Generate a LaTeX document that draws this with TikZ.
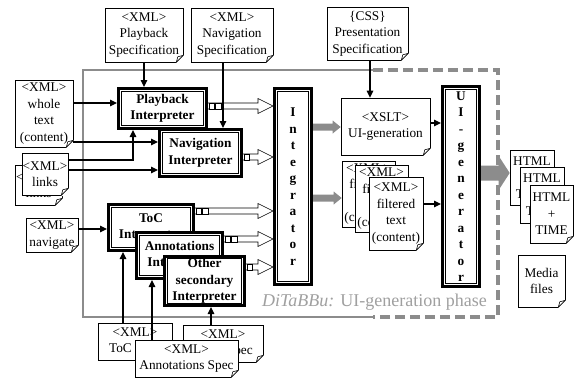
\documentclass[tikz,border=0pt]{standalone}
\usepackage{fontspec}
\setmainfont{Liberation Serif}
\usetikzlibrary{calc,arrows.meta}
\definecolor{frameg}{HTML}{8C8C8C}
\definecolor{labelg}{HTML}{A0A0A0}
\definecolor{arrg}{HTML}{8C8C8C}
\newcommand\docfont{\fontsize{13.3}{16.5}\selectfont}
\newcommand\boxfont{\fontsize{13.3}{16.5}\selectfont\bfseries}
\tikzset{
  docnode/.style={draw, line width=0.6pt, fill=white, inner sep=0pt, align=center, font=\docfont},
  frm/.style={draw, line width=3pt, fill=white, inner sep=0pt},
  inn/.style={draw, line width=0.8pt, fill=white, inner sep=0pt, align=center, font=\boxfont},
  arr/.style={line width=1.2pt, -{Triangle[length=7pt,width=6.5pt]}},
  solidframe/.style={draw=frameg, line width=2pt},
  dashframe/.style={draw=frameg, line width=4pt, dash pattern=on 10pt off 5pt},
}
% document with folded corner: name, cx, cy, w, h, text
\newcommand\mydoc[6]{%
  \node[docnode, minimum width=#4pt, minimum height=#5pt] (#1) at (#2,#3) {#6};
  \fill[white] ($(#1.south east)+(-7.5,0.8)$) -- ($(#1.south east)+(0.8,0.8)$) -- ($(#1.south east)+(0.8,-7.5)$) -- cycle;
  \draw[line width=0.6pt, line join=round] ($(#1.south east)+(-7,0)$) -- ($(#1.south east)+(0,-7)$) -- ($(#1.south east)+(-5.5,-5.5)$) -- cycle;
}
% interpreter box with thick outer and thin inner frame: name, cx, cy, w, h, text
\newcommand\ibox[6]{%
  \node[frm, minimum width=#4pt-3pt, minimum height=#5pt-3pt] (#1) at (#2,#3) {};
  \node[inn, minimum width=#4pt-9pt, minimum height=#5pt-9pt] (#1i) at (#2,#3) {#6};
}
% hollow arrow: from node, to node, y, list of square offsets
\newcommand\harrow[4]{%
  \coordinate (hs) at (#1.east |- 0,#3);
  \coordinate (he) at (#2.west |- 0,#3);
  \draw[line width=0.6pt, fill=white] ($(hs)+(0,-3)$) -- ($(he)+(-15,-3)$) -- ($(he)+(-15,-7.5)$) -- (he) -- ($(he)+(-15,7.5)$) -- ($(he)+(-15,3)$) -- ($(hs)+(0,3)$);
  \foreach \k in {#4}{\draw[line width=0.5pt, fill=white] ($(hs)+(\k,-3)$) rectangle ($(hs)+(\k+5.5,3)$);}
}
% grey filled arrow: from, to, y, shaft half, head half, head length
\newcommand\garrow[6]{%
  \coordinate (gs) at (#1.east |- 0,#3);
  \coordinate (ge) at (#2.west |- 0,#3);
  \fill[arrg] ($(gs)+(0,-#4)$) -- ($(ge)+(-#6,-#4)$) -- ($(ge)+(-#6,-#5)$) -- (ge) -- ($(ge)+(-#6,#5)$) -- ($(ge)+(-#6,#4)$) -- ($(gs)+(0,#4)$) -- cycle;
}
\begin{document}
\begin{tikzpicture}[x=1pt,y=-1pt]
\useasboundingbox (0,0) rectangle (574,378);
\fill[white] (0,0) rectangle (574,378);
% phase frame
\draw[solidframe] (373,70) -- (83,70) -- (83,317) -- (373,317);
\draw[dashframe] (373,70) -- (498,70) -- (498,317) -- (373,317);
\node[font=\fontsize{18}{20}\selectfont, text=labelg, anchor=east, inner sep=0pt] (lbl) at (487,302) {\textit{DiTaBBu:} UI-generation phase};
% specification documents
\mydoc{pbspec}{144}{35}{78}{54}{<XML>\\Playback\\Specification}
\mydoc{navspec}{232}{35}{82}{54}{<XML>\\Navigation\\Specification}
\mydoc{css}{367.5}{33.5}{81}{53}{\{CSS\}\\Presentation\\Specification}
\mydoc{whole}{44}{113.5}{58}{67}{<XML>\\whole\\text\\(content)}
\mydoc{links2}{38.5}{185}{47}{40}{<XML>\\links}
\mydoc{links1}{45}{174}{46}{42}{<XML>\\links}
\mydoc{navigate}{52}{235}{52}{34}{<XML>\\navigate}
\mydoc{tocspec}{135}{341.5}{74}{37}{<XML>\\ToC Spec}
\mydoc{othspec}{223}{343.5}{80}{37}{<XML>\\Other Spec}
\mydoc{annspec}{186.5}{358.5}{103}{37}{<XML>\\Annotations Spec}
\mydoc{xslt}{385.5}{126.5}{89}{57}{<XSLT>\\UI-generation}
\mydoc{filt1}{368.5}{194}{53}{66}{<XML>\\filtered\\text\\(content)}
\mydoc{filt2}{381.5}{198.5}{53}{67}{<XML>\\filtered\\text\\(content)}
\mydoc{filt3}{396}{213.5}{54}{73}{<XML>\\filtered\\text\\(content)}
\mydoc{html1}{532}{177.5}{44}{55}{HTML\\+\\TIME}
\mydoc{html2}{542}{195}{44}{56}{HTML\\+\\TIME}
\mydoc{html3}{551.5}{214}{43}{58}{HTML\\+\\TIME}
\mydoc{media}{541.5}{281}{47}{52}{Media\\files}
% interpreters
\ibox{pb}{162.5}{108.5}{91}{43}{Playback\\Interpreter}
\ibox{nav}{200.5}{153}{85}{50}{Navigation\\Interpreter}
\ibox{toc}{151}{227.5}{88}{49}{ToC\\Interpreter}
\ibox{ann}{179.5}{255.5}{89}{49}{Annotations\\Interpreter}
\ibox{oth}{204.5}{281}{83}{52}{Other\\secondary\\Interpreter}
\ibox{integ}{293}{186.5}{40}{199}{I\\n\\t\\e\\g\\r\\a\\t\\o\\r}
\ibox{uigen}{461}{186.5}{40}{203}{U\\I\\-\\g\\e\\n\\e\\r\\a\\t\\o\\r}
% hollow arrows into the integrator
\harrow{pb}{integ}{106}{1,7.5}
\harrow{nav}{integ}{157}{1}
\harrow{toc}{integ}{211}{1,7.5}
\harrow{ann}{integ}{239}{1,7.5}
\harrow{oth}{integ}{267}{1}
% grey arrows
\garrow{integ}{xslt}{127}{3.5}{6.5}{8}
\garrow{integ}{filt1}{198}{3.5}{6.5}{8}
\garrow{uigen}{html1}{173}{7.5}{17}{11}
% black arrows
\draw[arr] (pbspec.south) -- (pbspec.south |- pb.north);
\draw[arr] (navspec.south -| 223,0) -- (nav.north -| 223,0);
\draw[arr] (css.south -| 370,0) -- (xslt.north -| 370,0);
\draw[arr] (whole.east |- 0,103) -- (pb.west |- 0,103);
\draw[arr] (whole.east |- 0,142) -- (nav.west |- 0,142);
\draw[arr] (links1.east |- 0,160) -| (pb.south -| 133,0);
\draw[arr] (links1.east |- 0,170) -- (nav.west |- 0,170);
\draw[arr] (navigate.east |- 0,229) -- (toc.west |- 0,229);
\draw[arr] (tocspec.north -| 123,0) -- (toc.south -| 123,0);
\draw[arr] (annspec.north -| 152,0) -- (ann.south -| 152,0);
\draw[arr] (othspec.north -| 211,0) -- (oth.south -| 211,0);
\draw[arr] (xslt.east |- 0,123) -- (uigen.west |- 0,123);
\draw[arr] (filt3.east |- 0,204) -- (uigen.west |- 0,204);
\end{tikzpicture}
\end{document}
